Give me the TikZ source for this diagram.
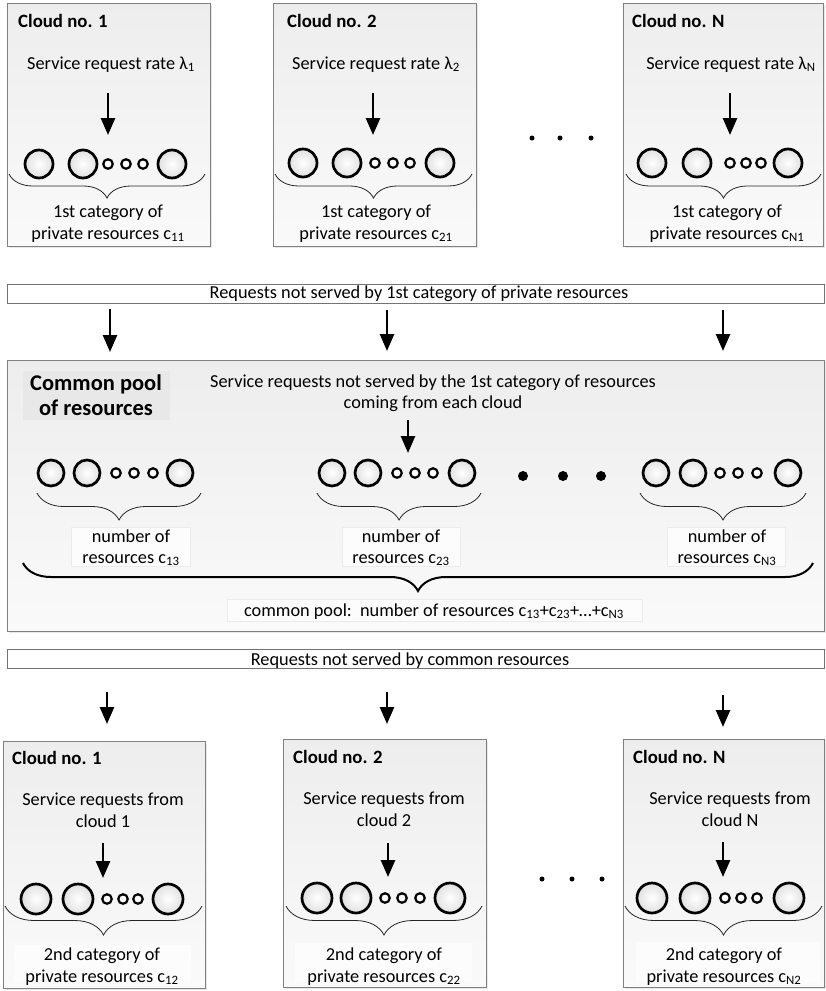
\documentclass[tikz,border=0pt]{standalone}
\usepackage{fontspec}
\setmainfont{Carlito}
\usetikzlibrary{arrows.meta,shadows,decorations.pathreplacing}
\newcommand\resrow[9]{%
  \node[bigres={#3}] (#1a) at (#4,#2) {};
  \node[bigres={#3}] (#1b) at (#5,#2) {};
  \node[smallres] (#1c) at (#6,#2) {};
  \node[smallres] (#1d) at (#7,#2) {};
  \node[smallres] (#1e) at (#8,#2) {};
  \node[bigres={#3}] (#1f) at (#9,#2) {};}
\begin{document}
\begin{tikzpicture}[x=1pt,y=-1pt,
  panel/.style={draw=black!50, line width=0.8pt, top color=black!7, bottom color=black!2,
    drop shadow={opacity=0.18, shadow xshift=1.5pt, shadow yshift=-1.5pt},
    anchor=north west, inner sep=0pt, outer sep=0pt},
  band/.style={draw=black!55, line width=0.8pt, fill=white,
    drop shadow={opacity=0.15, shadow xshift=1pt, shadow yshift=-1pt},
    anchor=north west, inner sep=0pt, outer sep=0pt, minimum width=817, minimum height=19},
  labbox/.style={anchor=north west, inner sep=0pt, outer sep=0pt, fill=black!1},
  txt/.style={anchor=base, inner sep=0pt, font=\fontsize{18.3}{22}\selectfont},
  ttl/.style={anchor=base west, inner sep=0pt, font=\fontsize{18.8}{22}\selectfont\bfseries},
  bigttl/.style={anchor=base, inner sep=0pt, font=\fontsize{22.5}{26}\selectfont\bfseries},
  bigres/.style={circle, draw=black, line width=2.7pt, inner color=white, outer color=black!12,
    minimum size=#1, inner sep=0pt},
  smallres/.style={circle, draw=black, line width=2.2pt, fill=white, minimum size=9.5, inner sep=0pt},
  dotn/.style={circle, fill=black, inner sep=0pt, minimum size=#1},
  arr/.style={line width=2.6pt, -{Triangle[width=14pt,length=17pt]}},
  brc/.style={draw=black!85, line width=0.8pt, decorate, decoration={brace, mirror, amplitude=#1}},
  bigbrc/.style={draw=black, line width=2pt, decorate, decoration={brace, mirror, amplitude=#1}}
]
\useasboundingbox (0,0) rectangle (825,991);

% ---------------- top clouds ----------------
\node[panel, minimum width=203, minimum height=243] (top1) at (7,3) {};
\node[panel, minimum width=203, minimum height=243] (top2) at (273,3) {};
\node[panel, minimum width=200, minimum height=243] (topN) at (623,3) {};

\node[ttl] (t1t) at (18,27) {Cloud no. 1};
\node[ttl] (t2t) at (287,27) {Cloud no. 2};
\node[ttl] (tNt) at (632,27) {Cloud no. N};

\node[txt] (t1r) at (111,69) {Service request rate λ\textsubscript{1}};
\node[txt] (t2r) at (376,69) {Service request rate λ\textsubscript{2}};
\node[txt] (tNr) at (731,69) {Service request rate λ\textsubscript{N}};

\coordinate (t1as) at (108,93); \coordinate (t1ae) at (108,135);
\coordinate (t2as) at (373,93); \coordinate (t2ae) at (373,135);
\coordinate (tNas) at (730,93); \coordinate (tNae) at (730,135);
\draw[arr] (t1as) -- (t1ae);
\draw[arr] (t2as) -- (t2ae);
\draw[arr] (tNas) -- (tNae);

\resrow{t1}{164}{28}{39}{83}{108}{126}{143}{172}
\resrow{t2}{163}{28}{303}{347}{375}{393}{410}{440}
\resrow{tN}{163}{28}{652}{697}{730}{746}{761}{788}

\draw[brc=24pt] (9,174) -- (205,174);
\draw[brc=24pt] (275,174) -- (472,174);
\draw[brc=24pt] (626,174) -- (821,174);

\node[txt] (t1l1) at (108,217) {1st category of};
\node[txt] (t1l2) at (108,239) {private resources c\textsubscript{11}};
\node[txt] (t2l1) at (376,217) {1st category of};
\node[txt] (t2l2) at (376,239) {private resources c\textsubscript{21}};
\node[txt] (tNl1) at (727,217) {1st category of};
\node[txt] (tNl2) at (727,239) {private resources c\textsubscript{N1}};

\node[dotn=5] (td1) at (532,138) {};
\node[dotn=5] (td2) at (560,138) {};
\node[dotn=5] (td3) at (591,138) {};

% ---------------- band 1 ----------------
\node[band] (band1) at (7,284) {};
\node[txt] (band1t) at (419,298) {Requests not served by 1st category of private resources};
\coordinate (b1s1) at (110,309); \coordinate (b1e1) at (110,352);
\coordinate (b1s2) at (387,310); \coordinate (b1e2) at (387,351);
\coordinate (b1s3) at (723,310); \coordinate (b1e3) at (723,351);
\draw[arr] (b1s1) -- (b1e1);
\draw[arr] (b1s2) -- (b1e2);
\draw[arr] (b1s3) -- (b1e3);

% ---------------- common pool ----------------
\node[panel, minimum width=817, minimum height=271] (pool) at (7,360) {};
\node[labbox, fill=black!9, minimum width=147, minimum height=49] (pooltb) at (23,371) {};
\node[bigttl] (poolt1) at (96,390) {Common pool};
\node[bigttl] (poolt2) at (96,415) {of resources};
\node[txt] (pools1) at (433,387) {Service requests not served by the 1st category of resources};
\node[txt] (pools2) at (433,408) {coming from each cloud};
\coordinate (pas) at (408,420); \coordinate (pae) at (408,453);
\draw[arr] (pas) -- (pae);

\resrow{g1}{473}{26}{51}{87}{116}{134}{153}{180}
\resrow{g2}{473}{26}{332}{368}{397}{415}{433}{462}
\resrow{g3}{473}{26}{656}{693}{720}{738}{757}{788}

\node[dotn=10] (pd1) at (523,476) {};
\node[dotn=10] (pd2) at (563,476) {};
\node[dotn=10] (pd3) at (601,476) {};

\draw[brc=27pt] (37,493) -- (201,493);
\draw[brc=27pt] (317,493) -- (481,493);
\draw[brc=27pt] (640,493) -- (806,493);

\node[labbox, draw=black!8, line width=0.6pt, minimum width=119, minimum height=39] (g1lb) at (71,527) {};
\node[labbox, draw=black!8, line width=0.6pt, minimum width=118, minimum height=39] (g2lb) at (342,527) {};
\node[labbox, draw=black!8, line width=0.6pt, minimum width=118, minimum height=39] (g3lb) at (667,527) {};
\node[txt] (g1l1) at (131,542) {number of};
\node[txt] (g1l2) at (131,563) {resources c\textsubscript{13}};
\node[txt] (g2l1) at (401,542) {number of};
\node[txt] (g2l2) at (401,563) {resources c\textsubscript{23}};
\node[txt] (g3l1) at (727,542) {number of};
\node[txt] (g3l2) at (727,563) {resources c\textsubscript{N3}};

\draw[bigbrc=28pt] (23,563) -- (813,563);
\node[labbox, draw=black!8, line width=0.6pt, minimum width=415, minimum height=22] (poollb) at (227,599) {};
\node[txt] (poolsum) at (434,616) {common pool:\ \ number of resources c\textsubscript{13}+c\textsubscript{23}+…+c\textsubscript{N3}};

% ---------------- band 2 ----------------
\node[band] (band2) at (7,649) {};
\node[txt] (band2t) at (410,665) {Requests not served by common resources};
\coordinate (b2s1) at (107,692); \coordinate (b2e1) at (107,724);
\coordinate (b2s2) at (387,692); \coordinate (b2e2) at (387,724);
\coordinate (b2s3) at (723,695); \coordinate (b2e3) at (723,727);
\draw[arr] (b2s1) -- (b2e1);
\draw[arr] (b2s2) -- (b2e2);
\draw[arr] (b2s3) -- (b2e3);

% ---------------- bottom clouds ----------------
\node[panel, minimum width=202, minimum height=247] (bot1) at (3,741) {};
\node[panel, minimum width=203, minimum height=248] (bot2) at (283,739) {};
\node[panel, minimum width=201, minimum height=248] (botN) at (623,739) {};

\node[ttl] (b1t) at (12,764) {Cloud no. 1};
\node[ttl] (b2t) at (293,763) {Cloud no. 2};
\node[ttl] (bNt) at (633,763) {Cloud no. N};

\node[txt] (b1r1) at (103,805) {Service requests from};
\node[txt] (b1r2) at (103,827) {cloud 1};
\node[txt] (b2r1) at (384,804) {Service requests from};
\node[txt] (b2r2) at (384,826) {cloud 2};
\node[txt] (bNr1) at (730,804) {Service requests from};
\node[txt] (bNr2) at (730,826) {cloud N};

\coordinate (b1as) at (103,843); \coordinate (b1ae) at (103,878);
\coordinate (b2as) at (388,843); \coordinate (b2ae) at (388,877);
\coordinate (bNas) at (723,842); \coordinate (bNae) at (723,877);
\draw[arr] (b1as) -- (b1ae);
\draw[arr] (b2as) -- (b2ae);
\draw[arr] (bNas) -- (bNae);

\resrow{r1}{899}{30}{36}{78}{107}{123}{138}{168}
\resrow{r2}{898}{30}{317}{356}{385}{402}{420}{450}
\resrow{rN}{898}{30}{652}{695}{725}{741}{757}{789}

\draw[brc=29pt] (5,906) -- (202,906);
\draw[brc=29pt] (286,906) -- (482,906);
\draw[brc=29pt] (625,906) -- (822,906);

\node[labbox, fill=black!1, minimum width=177, minimum height=38] (b1lb) at (14,945) {};
\node[labbox, fill=black!1, minimum width=177, minimum height=40] (b2lb) at (295,943) {};
\node[labbox, fill=black!1, minimum width=184, minimum height=41] (bNlb) at (636,942) {};
\node[txt] (b1l1) at (102,960) {2nd category of};
\node[txt] (b1l2) at (102,982) {private resources c\textsubscript{12}};
\node[txt] (b2l1) at (384,960) {2nd category of};
\node[txt] (b2l2) at (384,982) {private resources c\textsubscript{22}};
\node[txt] (bNl1) at (724,960) {2nd category of};
\node[txt] (bNl2) at (724,982) {private resources c\textsubscript{N2}};

\node[dotn=5] (bd1) at (542,879) {};
\node[dotn=5] (bd2) at (572,879) {};
\node[dotn=5] (bd3) at (602,879) {};
\end{tikzpicture}
\end{document}
